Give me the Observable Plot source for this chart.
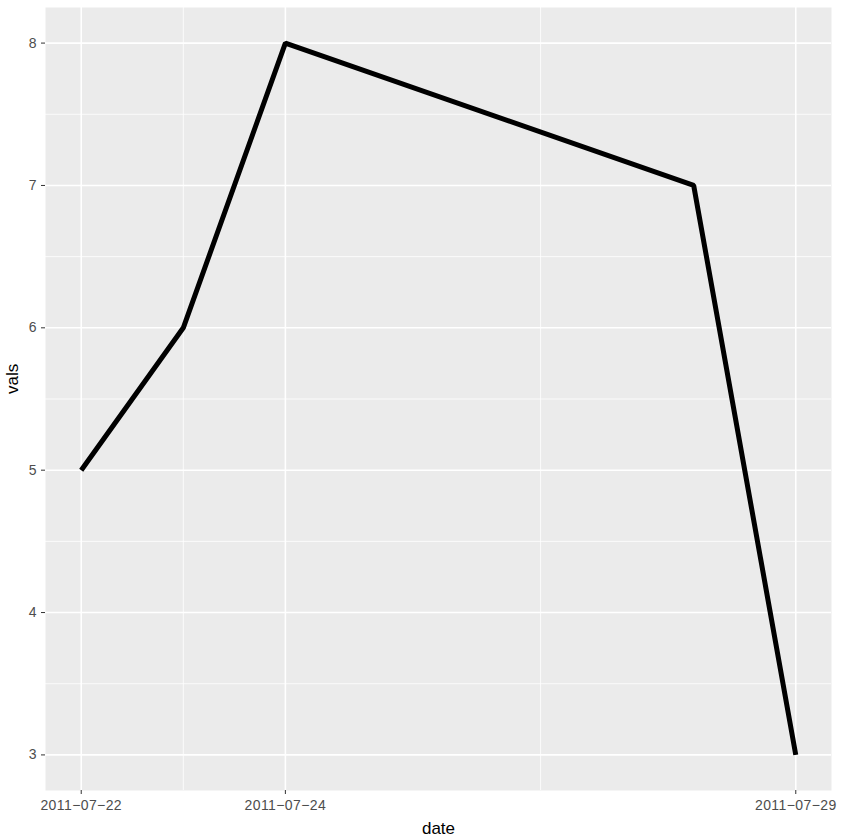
<!DOCTYPE html>
<html>
<head>
<meta charset="utf-8">
<script src="https://cdn.jsdelivr.net/npm/d3@7"></script>
<script src="https://cdn.jsdelivr.net/npm/@observablehq/plot@0.6"></script>
<style>
  html, body { margin: 0; padding: 0; background: #ffffff; }
  #chart { width: 841px; height: 840px; }
  #chart svg g[aria-label$="tick label"],
  #chart svg g[aria-label$="tick label"] text { fill: #4D4D4D; font-size: 14px !important; }
  #chart svg g[aria-label="x-axis tick label"] text { letter-spacing: 0.4px; }
</style>
</head>
<body>
<div id="chart"></div>
<script>
// Data
const dates = ["2011-07-22", "2011-07-23", "2011-07-24", "2011-07-28", "2011-07-29"];
const vals = [5, 6, 8, 7, 3];

// Axis breaks
const xBreaks = ["2011-07-22", "2011-07-24", "2011-07-29"];
const xMinorBreaks = ["2011-07-23T00:00Z", "2011-07-26T12:00Z"];
const yBreaks = [3, 4, 5, 6, 7, 8];
const yMinorBreaks = [3.5, 4.5, 5.5, 6.5, 7.5];
const xTitle = "date";
const yTitle = "vals";

const parse = s => new Date(s.length === 10 ? s + "T00:00Z" : s);
const data = dates.map((d, i) => ({date: parse(d), val: vals[i]}));
const xMajor = xBreaks.map(parse);
const xMinor = xMinorBreaks.map(parse);

// ggplot-style 5% expansion
const xMin = d3.min(data, d => d.date), xMax = d3.max(data, d => d.date);
const xPad = (xMax - xMin) * 0.05;
const yMin = d3.min(vals), yMax = d3.max(vals);
const yPad = (yMax - yMin) * 0.05;

const fmt = d => d3.utcFormat("%Y-%m-%d")(d).replace(/-/g, "\u2212");

const chart = Plot.plot({
  width: 841,
  height: 840,
  marginLeft: 45,
  marginRight: 10,
  marginTop: 7,
  marginBottom: 50,
  style: {fontFamily: "'Liberation Sans', Arial, sans-serif", fontSize: "14px", background: "#ffffff", overflow: "visible"},
  x: {type: "utc", domain: [new Date(+xMin - xPad), new Date(+xMax + xPad)]},
  y: {domain: [yMin - yPad, yMax + yPad]},
  marks: [
    Plot.frame({fill: "#EBEBEB", stroke: null}),
    Plot.ruleY(yMinorBreaks, {stroke: "#ffffff", strokeWidth: 0.8}),
    Plot.ruleX(xMinor, {stroke: "#ffffff", strokeWidth: 0.8}),
    Plot.ruleY(yBreaks, {stroke: "#ffffff", strokeWidth: 1.6}),
    Plot.ruleX(xMajor, {stroke: "#ffffff", strokeWidth: 1.6}),
    Plot.line(data, {x: "date", y: "val", stroke: "#000000", strokeWidth: 5, strokeLinejoin: "miter", strokeLinecap: "butt"}),
    Plot.axisX(xMajor, {tickSize: 4, tickPadding: 6, tickFormat: fmt, fill: "#4D4D4D", stroke: "#333333", label: null}),
    Plot.axisY(yBreaks, {tickSize: 4, tickPadding: 5, tickFormat: d3.format("d"), fill: "#4D4D4D", stroke: "#333333", label: null}),
    Plot.text([xTitle], {frameAnchor: "bottom", dy: 43, text: d => d, fontSize: 17, fill: "#000000", lineAnchor: "bottom"}),
    Plot.text([yTitle], {frameAnchor: "left", dx: -27.5, dy: -5, text: d => d, fontSize: 17, fill: "#000000", rotate: -90, lineAnchor: "bottom"})
  ]
});
document.getElementById("chart").appendChild(chart);
</script>
</body>
</html>
